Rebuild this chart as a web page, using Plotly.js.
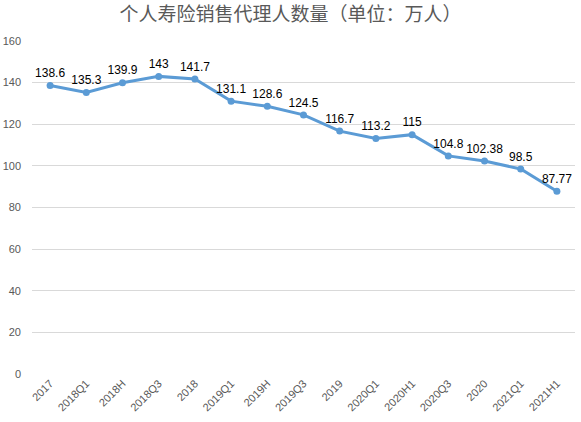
<!DOCTYPE html>
<html>
<head>
<meta charset="utf-8">
<script src="https://cdn.plot.ly/plotly-3.0.1.min.js"></script>
<style>html,body{margin:0;padding:0;background:#fff;}#chart{width:581px;height:422px;}</style>
</head>
<body>
<div id="chart"></div>
<script>
const categories = ["2017","2018Q1","2018H","2018Q3","2018","2019Q1","2019H","2019Q3","2019","2020Q1","2020H1","2020Q3","2020","2021Q1","2021H1"];
const agents = [138.6,135.3,139.9,143,141.7,131.1,128.6,124.5,116.7,113.2,115,104.8,102.38,98.5,87.77];
const labels = ["138.6","135.3","139.9","143","141.7","131.1","128.6","124.5","116.7","113.2","115","104.8","102.38","98.5","87.77"];
const yTicks = [0,20,40,60,80,100,120,140,160];

const trace = {
  x: categories,
  y: agents,
  type: "scatter",
  mode: "lines+markers+text",
  text: labels,
  textposition: "top center",
  textfont: {family: "Liberation Sans, Arial, sans-serif", size: 12, color: "#000000"},
  line: {color: "#5B9BD5", width: 3},
  marker: {color: "#5B9BD5", size: 7},
  cliponaxis: false,
  hoverinfo: "x+y"
};

const layout = {
  width: 581, height: 422,
  margin: {l: 32, r: 6, t: 41, b: 48},
  paper_bgcolor: "#ffffff",
  plot_bgcolor: "#ffffff",
  showlegend: false,
  title: {
    text: "个人寿险销售代理人数量（单位：万人）",
    font: {family: "Noto Sans CJK SC, sans-serif", size: 19, color: "#595959"},
    x: 0.5, xanchor: "center", y: 0.965, yanchor: "middle"
  },
  xaxis: {
    type: "category",
    automargin: false,
    range: [-0.5, 14.5],
    tickangle: -45,
    tickfont: {family: "Liberation Sans, Arial, sans-serif", size: 11, color: "#595959"},
    showgrid: false,
    showline: false,
    zeroline: false,
    ticks: "",
    fixedrange: true
  },
  yaxis: {
    automargin: false,
    range: [0, 160],
    tickvals: yTicks,
    ticktext: yTicks.map(String),
    tickfont: {family: "Liberation Sans, Arial, sans-serif", size: 11, color: "#595959"},
    showgrid: true,
    gridcolor: "#D9D9D9",
    gridwidth: 1,
    zeroline: false,
    showline: false,
    ticks: "",
    ticklabelstandoff: 10,
    fixedrange: true
  }
};

Plotly.newPlot("chart", [trace], layout, {displayModeBar: false, staticPlot: true});
</script>
</body>
</html>
